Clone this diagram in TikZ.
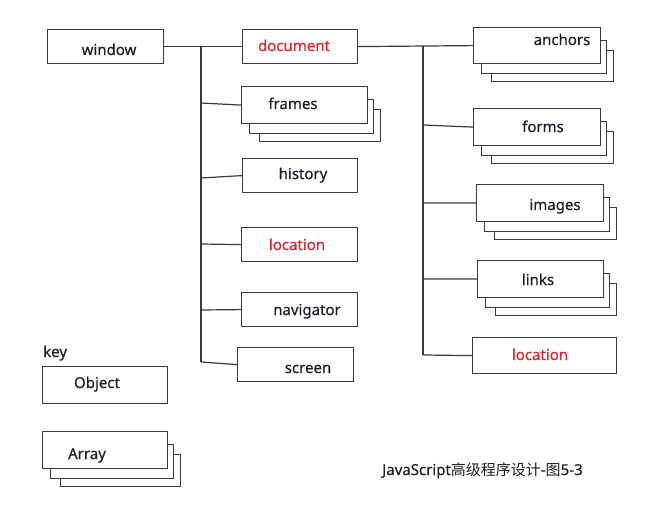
\documentclass[tikz,border=0pt]{standalone}
\usepackage{fontspec}
\setmainfont{Noto Sans}[BoldFont={Noto Sans},BoldFeatures={FakeBold=0.35}]
\newfontfamily\cjk{Noto Sans CJK SC}
\definecolor{linec}{HTML}{3A3A3A}
\definecolor{redt}{HTML}{E2252D}
\definecolor{txt}{HTML}{1E1E28}
\tikzset{
  box/.style={draw=linec, fill=white, line width=1.2pt, rectangle, inner sep=0pt, anchor=north west},
  conn/.style={draw=linec, line width=1.2pt},
  lbl/.style={anchor=base, inner sep=0pt, text=txt, font=\fontsize{15}{17}\selectfont\bfseries},
  rlbl/.style={lbl, text=redt},
}
\newcommand\bx[5]{\node[box, minimum width=#4pt, minimum height=#5pt] (#1) at (#2,#3) {};}
\newcommand\stk[5]{%
  \node[box, minimum width={(#4-5)*1pt}, minimum height={(#5-5)*1pt}] (#1b) at ({#2+18},{#3+23}) {};
  \node[box, minimum width={(#4-2)*1pt}, minimum height={(#5-3)*1pt}] (#1a) at ({#2+8},{#3+13}) {};
  \node[box, minimum width=#4pt, minimum height=#5pt] (#1) at (#2,#3) {};}
\begin{document}
\begin{tikzpicture}[x=1pt,y=-1pt]
\useasboundingbox (0,0) rectangle (659,508);
% boxes
\bx{window}{47}{29}{116}{34}
\bx{document}{242}{29}{115}{34}
\stk{frames}{241}{86}{126}{37}
\bx{history}{242}{158}{115}{34}
\bx{locL}{241}{227}{116}{34}
\bx{navigator}{241}{292}{116}{34}
\bx{screen}{237}{347}{116}{34}
\stk{anchors}{473}{27}{127}{36}
\stk{forms}{473}{108}{127}{37}
\stk{images}{476}{184}{127}{37}
\stk{links}{477}{260}{126}{37}
\bx{locR}{472}{337}{144}{36}
\bx{object}{42}{366}{125}{37}
\stk{array}{42}{431}{125}{37}
% trunk coordinates
\coordinate (lt) at (201,46);
\coordinate (lb) at (201,362);
\coordinate (rt) at (423,46);
\coordinate (rb) at (423,355);
% connectors
\draw[conn] (window.east) -- (document.west);
\draw[conn] (lt) -- (lb);
\draw[conn] (201,103) -- (frames.west);
\draw[conn] (201,178) -- (history.west);
\draw[conn] (201,244) -- (locL.west);
\draw[conn] (201,310) -- (navigator.west);
\draw[conn] (lb) -- (screen.west);
\draw[conn] (document.east) -- (anchors.west);
\draw[conn] (rt) -- (rb);
\draw[conn] (423,125) -- (forms.west);
\draw[conn] (423,203) -- (images.west);
\draw[conn] (423,279) -- (links.west);
\draw[conn] (rb) -- (locR.west);
% labels
\node[lbl] (tw) at (109,55) {window};
\node[rlbl] (td) at (294,51) {document};
\node[lbl] (tf) at (293,109) {frames};
\node[lbl] (th) at (303,179) {history};
\node[rlbl] (tl) at (297,250) {location};
\node[lbl] (tn) at (307,315) {navigator};
\node[lbl] (ts) at (308,373) {screen};
\node[lbl] (ta) at (562,45) {anchors};
\node[lbl] (tfo) at (543,132) {forms};
\node[lbl] (ti) at (555,210) {images};
\node[lbl] (tli) at (538,285) {links};
\node[rlbl] (tlr) at (540,360) {location};
\node[lbl, anchor=base west] (tk) at (43,357) {key};
\node[lbl] (to) at (97,388) {Object};
\node[lbl] (tar) at (87,459) {Array};
\node[lbl, anchor=base west, font=\fontsize{15}{17}\selectfont\bfseries] (cap) at (382,475) {JavaScript{\cjk\mdseries 高级程序设计}-{\cjk\mdseries 图}5-3};
\end{tikzpicture}
\end{document}
